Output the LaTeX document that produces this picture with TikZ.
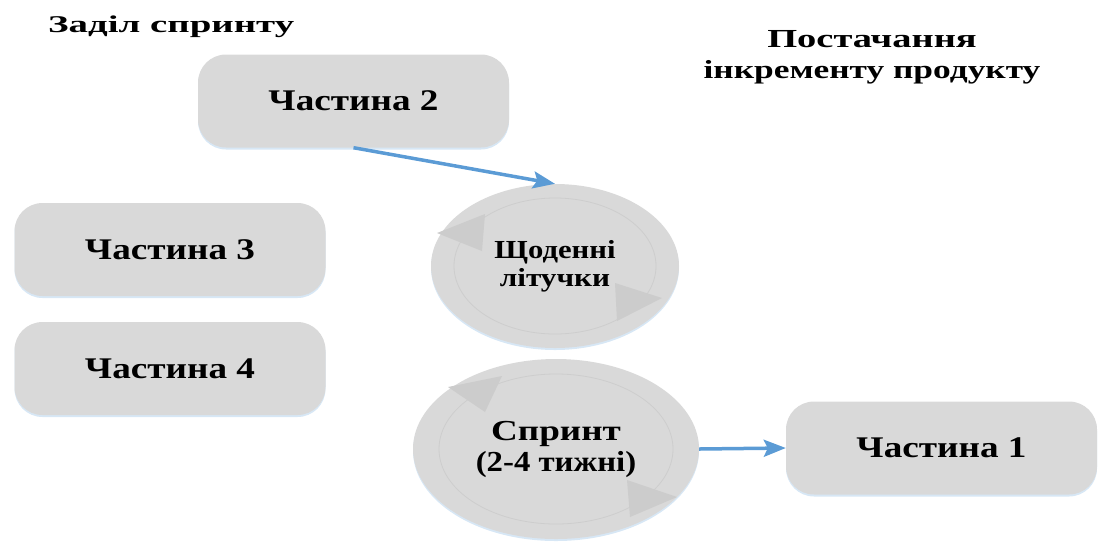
\documentclass[tikz,border=0pt]{standalone}
\usepackage{fontspec}
\setmainfont{Liberation Serif}
\usetikzlibrary{shapes.geometric,arrows.meta,shadows}
\definecolor{partfill}{HTML}{D9D9D9}
\definecolor{ringline}{HTML}{CDCDCD}
\definecolor{ringtip}{HTML}{CCCCCC}
\definecolor{flowblue}{HTML}{5B9BD5}
\definecolor{glow}{HTML}{BDD7EE}
% horizontally widened text
\newcommand{\sx}[2]{\scalebox{#1}[1]{#2}}
\begin{document}
\begin{tikzpicture}[x=1pt,y=-1pt,
  glowshadow/.style={drop shadow={shadow xshift=0pt,shadow yshift=-2pt,fill=glow,opacity=0.6}},
  partbox/.style={rounded corners=28pt, fill=partfill, minimum width=311pt, minimum height=93pt,
    inner sep=0pt, font=\fontsize{30}{30}\selectfont\bfseries, glowshadow},
  cyclenode/.style={ellipse, fill=partfill, inner sep=0pt, glowshadow, align=center},
  flow/.style={draw=flowblue, line width=3.5pt, -{Stealth[length=22pt,width=17pt,inset=4pt]}},
  heading/.style={inner sep=0pt, align=center},
]
\useasboundingbox (0,0) rectangle (1099,542);

% backlog parts
\node[partbox] (part2) at (353.5,101) {\sx{1.24}{Частина 2}};
\node[partbox] (part3) at (170,249.5) {\sx{1.24}{Частина 3}};
\node[partbox] (part4) at (170,368.5) {\sx{1.24}{Частина 4}};
\node[partbox] (part1) at (941.5,448) {\sx{1.24}{Частина 1}};

% cycles
\node[cyclenode, minimum width=248pt, minimum height=164pt,
  font=\fontsize{26}{28}\selectfont\bfseries] (daily) at (555,266)
  {\sx{1.18}{Щоденні}\\\sx{1.2}{літучки}};
\node[cyclenode, minimum width=286pt, minimum height=180pt,
  font=\fontsize{29}{31}\selectfont\bfseries] (sprint) at (556,449)
  {\sx{1.28}{Спринт}\\\sx{1.13}{(2-4 тижні)}};

\begin{scope}[shift={(daily.center)}]
  \draw[ringline, line width=0.8pt] (0,0) ellipse [x radius=101pt, y radius=68pt];
  \fill[ringtip] (-118,-33) -- (-70,-52) -- (-73,-15) -- cycle;
  \fill[ringtip] (60,17) -- (107,32) -- (62,55) -- cycle;
\end{scope}
\begin{scope}[shift={(sprint.center)}]
  \draw[ringline, line width=0.8pt] (0,0) ellipse [x radius=117pt, y radius=75pt];
  \fill[ringtip] (-108,-62) -- (-54,-73) -- (-71,-37) -- cycle;
  \fill[ringtip] (71,31) -- (121,48) -- (74,68) -- cycle;
\end{scope}

% headings
\node[heading, font=\fontsize{24}{24}\selectfont\bfseries, anchor=base west] (backlog)
  at (48,32) {\sx{1.62}{Заділ спринту}};
\node[heading, font=\fontsize{26}{31}\selectfont\bfseries, anchor=north] (delivery) at (872,30)
  {\sx{1.48}{Постачання}\\\sx{1.36}{інкременту продукту}};

% flow
\draw[flow] (part2.south) -- (daily.north);
\draw[flow] (sprint.east) -- (part1.west);
\end{tikzpicture}
\end{document}
